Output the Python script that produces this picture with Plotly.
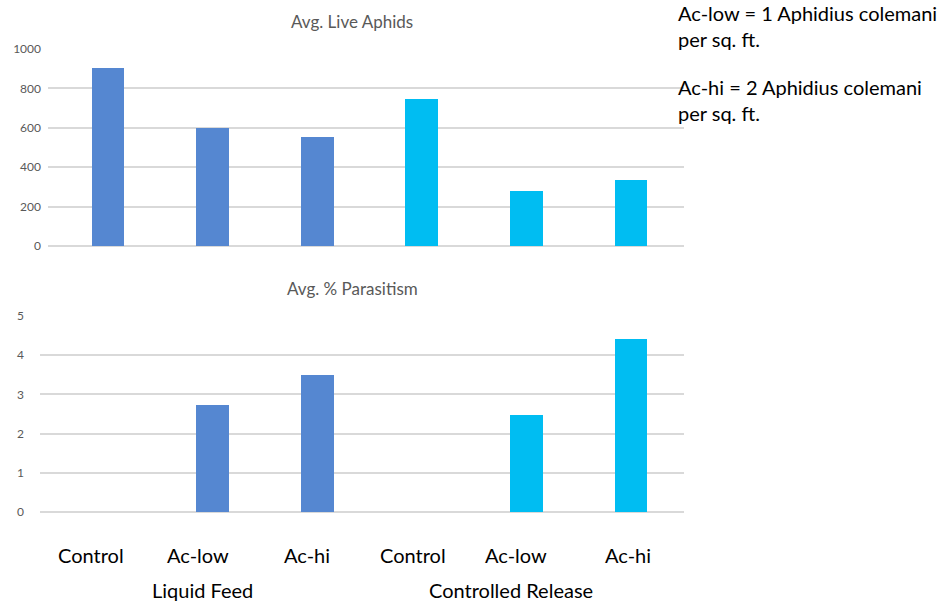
import plotly.graph_objects as go

categories = ["Control", "Ac-low", "Ac-hi", "Control", "Ac-low", "Ac-hi"]
groups = ["Liquid Feed", "Controlled Release"]
live_aphids = [904, 601, 554, 746, 279, 335]
parasitism = [0, 2.73, 3.49, 0, 2.47, 4.41]
bar_colors = ["#5587d1", "#5587d1", "#5587d1", "#00bdf2", "#00bdf2", "#00bdf2"]
top_ticks = [0, 200, 400, 600, 800, 1000]
bottom_ticks = [0, 1, 2, 3, 4, 5]
notes = ["Ac-low = 1 Aphidius colemani<br>per sq. ft.", "Ac-hi = 2 Aphidius colemani<br>per sq. ft."]

W, H = 944, 601
xpos = list(range(len(categories)))
FONT = "Lato, 'Open Sans', sans-serif"

fig = go.Figure()
fig.add_trace(go.Bar(x=xpos, y=live_aphids, marker=dict(color=bar_colors, line_width=0),
                     width=0.315, xaxis="x", yaxis="y", showlegend=False))
fig.add_trace(go.Bar(x=xpos, y=parasitism, marker=dict(color=bar_colors, line_width=0),
                     width=0.315, xaxis="x2", yaxis="y2", showlegend=False))

# pixel scale: category centres at 108 px and 631 px
ppu = (631 - 108) / 5
top_left, bot_left, right = 48, 40, 684
grid = "#d9d9d9"
tickfont = dict(family=FONT, size=12, color="#595959")

fig.update_layout(
    width=W, height=H, margin=dict(l=0, r=0, t=0, b=0, autoexpand=False),
    plot_bgcolor="white", paper_bgcolor="white", bargap=0,
    xaxis=dict(domain=[top_left / W, right / W],
               range=[-(108 - top_left) / ppu, 5 + (right - 631) / ppu],
               showticklabels=False, showgrid=False, zeroline=False, anchor="y"),
    yaxis=dict(domain=[(H - 246) / H, (H - 49) / H], range=[0, 1000], tickvals=top_ticks,
               gridcolor=grid, gridwidth=1.6, zeroline=True, zerolinecolor=grid, zerolinewidth=1.6,
               tickfont=tickfont, ticks="", ticklabelstandoff=6, anchor="x"),
    xaxis2=dict(domain=[bot_left / W, right / W],
                range=[-(108 - bot_left) / ppu, 5 + (right - 631) / ppu],
                showticklabels=False, showgrid=False, zeroline=False, anchor="y2"),
    yaxis2=dict(domain=[(H - 512) / H, (H - 316) / H], range=[0, 5], tickvals=bottom_ticks,
                gridcolor=grid, gridwidth=1.6, zeroline=True, zerolinecolor=grid, zerolinewidth=1.6,
                tickfont=tickfont, ticks="", ticklabelstandoff=15, anchor="x2"),
)

ann = []
ann.append(dict(text="Avg. Live Aphids", x=352 / W, y=1 - 22 / H, xref="paper", yref="paper",
                xanchor="center", yanchor="middle", showarrow=False,
                font=dict(family=FONT, size=17, color="#595959")))
ann.append(dict(text="Avg. % Parasitism", x=352 / W, y=1 - 288 / H, xref="paper", yref="paper",
                xanchor="center", yanchor="middle", showarrow=False,
                font=dict(family=FONT, size=17, color="#595959")))
label_shift = [-17, -15, -10, -9, -10, -3]
for i, c in enumerate(categories):
    ann.append(dict(text=c, x=xpos[i], xref="x2", y=1 - 555 / H, yref="paper", xshift=label_shift[i],
                    xanchor="center", yanchor="middle", showarrow=False,
                    font=dict(family=FONT, size=20, color="black")))
group_x = [202 / W, 511 / W]
for g, gx in zip(groups, group_x):
    ann.append(dict(text=g, x=gx, xref="paper", y=1 - 590 / H, yref="paper",
                    xanchor="center", yanchor="middle", showarrow=False,
                    font=dict(family=FONT, size=20, color="black")))
note_y = [1 - 26 / H, 1 - 100 / H]
for n, ny in zip(notes, note_y):
    ann.append(dict(text=n, x=676 / W, y=ny, xref="paper", yref="paper", xanchor="left",
                    yanchor="middle", align="left", showarrow=False,
                    font=dict(family=FONT, size=20, color="black")))
fig.update_layout(annotations=ann)

fig.write_html("out.html", config={"displayModeBar": False},
               post_script="document.body.style.margin='0px';")
